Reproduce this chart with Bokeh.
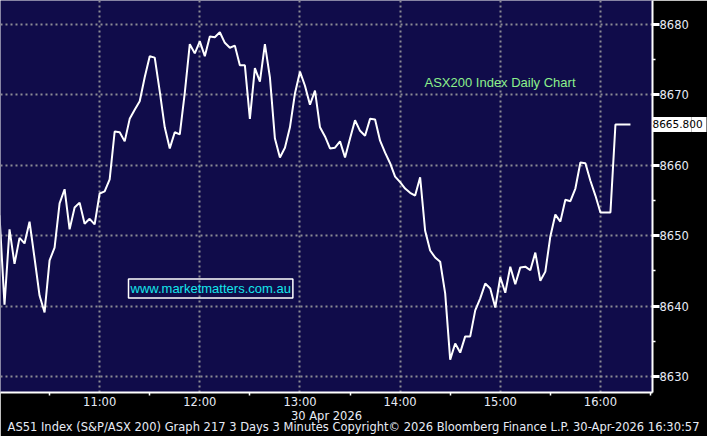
import pandas as pd
from bokeh.plotting import figure
from bokeh.models import (Range1d, FixedTicker, DatetimeTickFormatter, Label, LinearAxis,
                          PrintfTickFormatter)
from bokeh.embed import file_html
from bokeh.resources import INLINE

# ---------------- data ----------------
session_date = "2026-04-30"
session_start = "10:00"
bar_minutes = 3
close_values = [
    8652.9, 8640.2, 8650.9, 8646.0, 8649.7, 8648.9, 8652.0, 8646.8, 8641.5, 8639.1,
    8646.5, 8648.3, 8654.6, 8656.6, 8650.9, 8654.0, 8654.7, 8651.7, 8652.4, 8651.6,
    8656.0, 8656.3, 8658.0, 8664.8, 8664.7, 8663.4, 8666.6, 8667.9, 8669.1, 8672.5,
    8675.5, 8675.3, 8670.5, 8665.4, 8662.4, 8664.7, 8664.4, 8670.3, 8677.2, 8675.9,
    8677.6, 8675.5, 8678.3, 8678.2, 8678.9, 8677.4, 8676.7, 8677.0, 8674.2, 8674.2,
    8666.6, 8673.8, 8671.9, 8677.2, 8672.5, 8663.8, 8661.1, 8662.5, 8665.4, 8670.2,
    8673.3, 8671.3, 8668.6, 8670.6, 8665.4, 8664.1, 8662.4, 8662.5, 8663.4, 8661.1,
    8663.8, 8666.4, 8664.9, 8664.2, 8666.6, 8666.5, 8663.5, 8661.8, 8660.3, 8658.4,
    8657.6, 8656.7, 8656.1, 8655.7, 8658.3, 8650.7, 8647.9, 8646.9, 8646.3, 8641.8,
    8632.4, 8634.7, 8633.4, 8635.7, 8635.7, 8639.4, 8641.1, 8643.2, 8642.5, 8639.8,
    8644.1, 8641.9, 8645.6, 8643.1, 8645.5, 8645.6, 8645.1, 8647.6, 8643.6, 8644.9,
    8649.9, 8653.0, 8652.0, 8655.1, 8654.9, 8656.7, 8660.4, 8660.3, 8657.8, 8655.7,
    8653.3, 8653.3, 8653.3, 8665.8, 8665.8, 8665.8, 8665.8,
]
last_price = 8665.800
y_ticks = [8630, 8640, 8650, 8660, 8670, 8680]
y_minor_ticks = [8635, 8645, 8655, 8665, 8675]
x_tick_labels = ["11:00", "12:00", "13:00", "14:00", "15:00", "16:00"]
x_minor_labels = ["10:30", "11:30", "12:30", "13:30", "14:30", "15:30", "16:30"]
title_text = "ASX200 Index Daily Chart"
site_text = "www.marketmatters.com.au"
date_text = "30 Apr 2026"
footer_text = ("AS51 Index (S&P/ASX 200) Graph 217 3 Days 3 Minutes "
               "Copyright\u00a9 2026 Bloomberg Finance L.P. 30-Apr-2026 16:30:57")

times = pd.date_range(start=f"{session_date} {session_start}",
                      periods=len(close_values), freq=f"{bar_minutes}min")


def ms(label):
    return pd.Timestamp(f"{session_date} {label}").value // 10**6


x_start = pd.Timestamp(f"{session_date} 10:00:36")
x_end = pd.Timestamp(f"{session_date} 16:31:12")

# layout constants
FRAME_W = 652          # px width of the plot frame
NAVY = "#100c4a"
GRID = "#8c8c94"
TXT = "#e8ecf6"
FONT = "DejaVu Sans"

p = figure(width=707, height=436, x_axis_type="datetime", y_axis_location="right",
           x_range=Range1d(x_start, x_end), y_range=Range1d(8627.73, 8683.41),
           output_backend="svg", toolbar_location=None,
           min_border_left=0, min_border_top=0, min_border_right=55, min_border_bottom=44)
p.background_fill_color = NAVY
p.border_fill_color = "black"
p.outline_line_color = None

p.line(times, close_values, line_color="white", line_width=2)

# axes
xt = FixedTicker(ticks=[ms(t) for t in x_tick_labels], minor_ticks=[ms(t) for t in x_minor_labels])
yt = FixedTicker(ticks=y_ticks, minor_ticks=y_minor_ticks)
p.xaxis.ticker = xt
p.yaxis.ticker = yt
fmt = "%H:%M"
p.xaxis.formatter = DatetimeTickFormatter(microseconds=fmt, milliseconds=fmt, seconds=fmt, minsec=fmt,
                                          minutes=fmt, hourmin=fmt, hours=fmt, days=fmt,
                                          months=fmt, years=fmt)
for ax in (p.xaxis, p.yaxis):
    ax.axis_line_color = "white"
    ax.axis_line_width = 2
    ax.major_label_text_color = TXT
    ax.major_label_text_font = FONT
    ax.major_label_text_font_size = "11.5px"
    ax.minor_tick_line_color = "white"
    ax.minor_tick_line_width = 1.5
    ax.minor_tick_in = 0
    ax.minor_tick_out = 3
    ax.major_tick_in = 0
p.xaxis.major_tick_out = 0
p.xaxis.major_label_standoff = -1
p.xaxis.axis_label = date_text
p.xaxis.axis_label_standoff = -3
p.xaxis.axis_label_text_font = FONT
p.xaxis.axis_label_text_font_size = "11.5px"
p.xaxis.axis_label_text_font_style = "normal"
p.xaxis.axis_label_text_color = TXT
p.yaxis.major_tick_out = 7
p.yaxis.major_tick_line_color = "white"
p.yaxis.major_tick_line_width = 3
p.yaxis.major_label_standoff = 0

p.grid.grid_line_color = GRID
p.grid.grid_line_dash = "2 3"
p.grid.grid_line_width = 2
p.xgrid.ticker = xt
p.ygrid.ticker = yt

# footer: a second bottom axis with one labelled tick at the centre of the footer line
footer_center_px = 353
footer_center_ms = int(pd.Timestamp(x_start).value // 10**6
                       + footer_center_px / FRAME_W * (x_end - x_start).total_seconds() * 1000)
footer_axis = LinearAxis(ticker=FixedTicker(ticks=[footer_center_ms], minor_ticks=[]),
                         major_label_overrides={footer_center_ms: footer_text})
footer_axis.axis_line_color = None
footer_axis.major_tick_line_color = None
footer_axis.major_tick_in = 0
footer_axis.major_tick_out = 0
footer_axis.minor_tick_line_color = None
footer_axis.major_label_standoff = -6
footer_axis.major_label_text_color = TXT
footer_axis.major_label_text_font = FONT
footer_axis.major_label_text_font_size = "11.5px"
p.add_layout(footer_axis, "below")

# last-price tag: a second right axis with a single tick at the last price
tag_axis = LinearAxis(ticker=FixedTicker(ticks=[last_price], minor_ticks=[last_price]),
                      formatter=PrintfTickFormatter(format="%.3f"))
tag_axis.axis_line_color = None
tag_axis.major_tick_line_color = "white"
tag_axis.major_tick_line_width = 15
tag_axis.major_tick_in = 39
tag_axis.major_tick_out = 0
tag_axis.minor_tick_line_color = "white"
tag_axis.minor_tick_line_width = 15
tag_axis.minor_tick_in = 0
tag_axis.minor_tick_out = 15
tag_axis.major_label_standoff = -54
tag_axis.major_label_text_color = "black"
tag_axis.major_label_text_font = FONT
tag_axis.major_label_text_font_size = "10.5px"
p.add_layout(tag_axis, "right")

# annotations inside the frame (screen units relative to the frame's bottom-left corner)
p.add_layout(Label(x=424, y=310, x_units="screen", y_units="screen", text=title_text,
                   text_font="Liberation Sans", text_font_size="13px", text_color="#8cf08c",
                   text_baseline="middle"))
p.add_layout(Label(x=128, y=104, x_units="screen", y_units="screen", text=site_text,
                   text_font="Liberation Sans", text_font_size="13px", text_color="#14e6ec",
                   text_baseline="middle", border_line_color="white", border_line_width=1.5,
                   padding=2))

open("out.html", "w").write(file_html(p, INLINE))
